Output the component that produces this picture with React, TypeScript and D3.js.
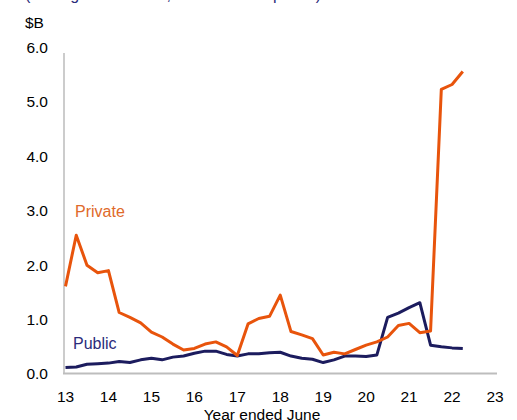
import React from "react";
import * as d3 from "d3";

const quarters: number[] = d3.range(38).map((i) => 13 + i / 4);

const privateValues: number[] = [
  1.61, 2.55, 2.0, 1.86, 1.9, 1.13, 1.04, 0.94, 0.77, 0.68, 0.55, 0.44, 0.47,
  0.55, 0.59, 0.5, 0.34, 0.92, 1.02, 1.06, 1.45, 0.78, 0.72, 0.65, 0.35, 0.4,
  0.37, 0.45, 0.53, 0.59, 0.68, 0.89, 0.93, 0.76, 0.79, 5.23, 5.32, 5.56,
];

const publicValues: number[] = [
  0.12, 0.13, 0.18, 0.19, 0.2, 0.23, 0.21, 0.26, 0.29, 0.26, 0.31, 0.33, 0.38,
  0.42, 0.42, 0.36, 0.33, 0.37, 0.37, 0.39, 0.4, 0.33, 0.29, 0.27, 0.21, 0.26,
  0.33, 0.33, 0.32, 0.35, 1.04, 1.12, 1.22, 1.31, 0.53, 0.5, 0.48, 0.47,
];

const xTicks: number[] = [13, 14, 15, 16, 17, 18, 19, 20, 21, 22, 23];
const yTicks: number[] = [0, 1, 2, 3, 4, 5, 6];

const FONT = "'Liberation Sans', Arial, sans-serif";

export default function App() {
  const W = 517;
  const H = 420;
  const x = d3.scaleLinear().domain([13, 23]).range([65.5, 495]);
  const y = d3.scaleLinear().domain([0, 6]).range([374, 47.5]);

  const line = d3
    .line<number>()
    .x((_, i) => x(quarters[i]))
    .y((d) => y(d));

  return (
    <svg
      width={W}
      height={H}
      style={{ position: "absolute", left: 0, top: 0, background: "#fff" }}
      fontFamily={FONT}
    >
      <text x={25} y={-0.5} fontSize={16} fill="#2B2B7A">
        (Rolling annual sum, current dollar prices)
      </text>
      <text x={25} y={28} fontSize={15.5} fill="#000">
        $B
      </text>
      {/* axes */}
      <line x1={64} x2={64} y1={53} y2={374} stroke="#999" strokeWidth={1} />
      <line x1={63} x2={497} y1={373.5} y2={373.5} stroke="#BDBDBD" strokeWidth={1.8} />
      {yTicks.map((t) => (
        <text
          key={t}
          x={48}
          y={y(t)}
          dy="0.35em"
          textAnchor="end"
          fontSize={15.5}
          fill="#000"
        >
          {t.toFixed(1)}
        </text>
      ))}
      {xTicks.map((t) => (
        <text key={t} x={x(t)} y={401.5} textAnchor="middle" fontSize={15.5} fill="#000">
          {t}
        </text>
      ))}
      <text x={262} y={419.5} textAnchor="middle" fontSize={15.5} fill="#000">
        Year ended June
      </text>
      <path
        d={line(publicValues) ?? ""}
        fill="none"
        stroke="#1C1C5E"
        strokeWidth={3}
        strokeLinejoin="round"
      />
      <path
        d={line(privateValues) ?? ""}
        fill="none"
        stroke="#E8540C"
        strokeWidth={3}
        strokeLinejoin="round"
      />
      <text x={75} y={217} fontSize={16} fill="#E06A2A">
        Private
      </text>
      <text x={73} y={349} fontSize={16} fill="#2B2B7A">
        Public
      </text>
    </svg>
  );
}
